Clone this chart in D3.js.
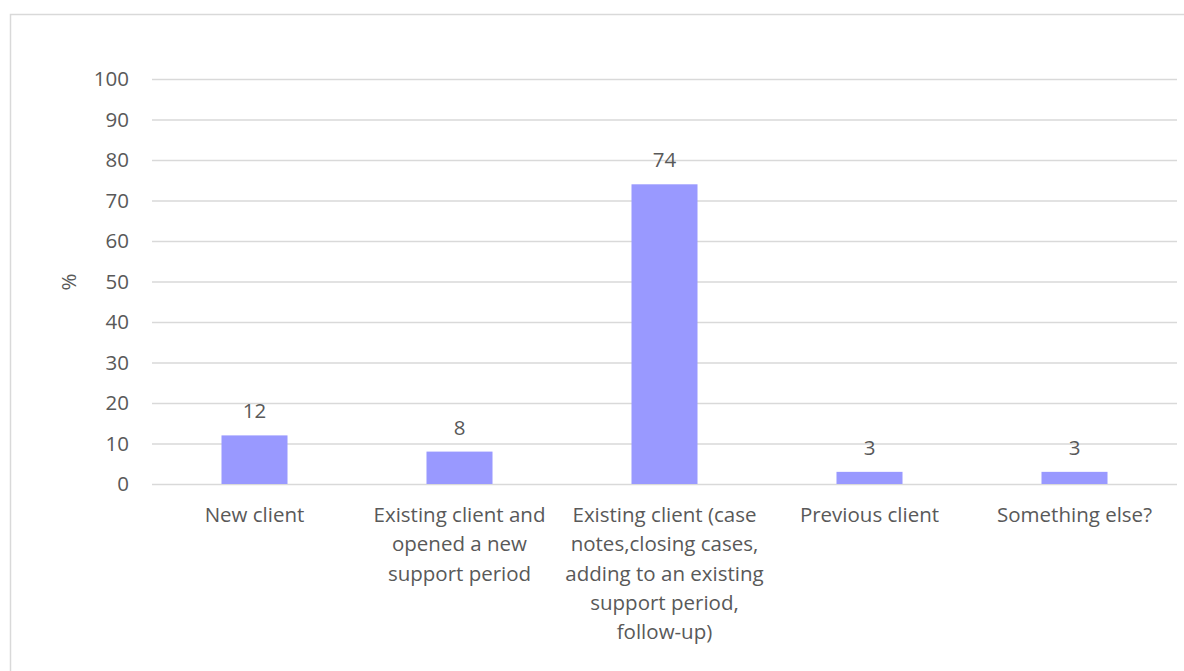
<!DOCTYPE html>
<html>
<head>
<meta charset="utf-8">
<script src="https://cdn.jsdelivr.net/npm/d3@7"></script>
<style>
  html, body { margin: 0; padding: 0; background: #fff; }
  svg { display: block; }
  text { font-family: "Open Sans", sans-serif; fill: #595959; }
</style>
</head>
<body>
<svg id="chart" width="1184" height="671"></svg>
<script>
const categories = [
  "New client",
  "Existing client and opened a new support period",
  "Existing client (case notes,closing cases, adding to an existing support period, follow-up)",
  "Previous client",
  "Something else?"
];
const categoryLines = [
  ["New client"],
  ["Existing client and", "opened a new", "support period"],
  ["Existing client (case", "notes,closing cases,", "adding to an existing", "support period,", "follow-up)"],
  ["Previous client"],
  ["Something else?"]
];
const values = [12, 8, 74, 3, 3];
const yTicks = [0, 10, 20, 30, 40, 50, 60, 70, 80, 90, 100];
const yAxisTitle = "%";

const svg = d3.select("#chart");
const W = 1184, H = 671;
const plot = { left: 152, right: 1177, top: 79, bottom: 484 };
const fontSize = 20.5;

// outer chart border
svg.append("rect")
  .attr("x", 10.5).attr("y", 14.5)
  .attr("width", W).attr("height", H)
  .attr("fill", "none").attr("stroke", "#d9d9d9").attr("stroke-width", 1.5);

const x = d3.scaleBand()
  .domain(categories)
  .range([plot.left, plot.right])
  .paddingInner(0.678)
  .paddingOuter(0.339);

const y = d3.scaleLinear().domain([0, 100]).range([plot.bottom, plot.top]);

// gridlines
const yAxis = d3.axisLeft(y).tickValues(yTicks).tickSize(-(plot.right - plot.left)).tickPadding(23);
const gy = svg.append("g").attr("transform", `translate(${plot.left},0)`).call(yAxis);
gy.select(".domain").remove();
gy.selectAll(".tick line").attr("stroke", "#d9d9d9").attr("stroke-width", 1.3);
gy.selectAll(".tick text")
  .attr("font-size", fontSize)
  .style("font-family", '"Open Sans", sans-serif')
  .attr("fill", "#595959");

// bars
svg.append("g").selectAll("rect")
  .data(values)
  .join("rect")
  .attr("x", (d, i) => x(categories[i]))
  .attr("y", d => y(d))
  .attr("width", x.bandwidth())
  .attr("height", d => y(0) - y(d))
  .attr("fill", "#9999ff");

// value labels
svg.append("g").selectAll("text")
  .data(values)
  .join("text")
  .attr("x", (d, i) => x(categories[i]) + x.bandwidth() / 2)
  .attr("y", d => y(d) - 17)
  .attr("text-anchor", "middle")
  .attr("font-size", fontSize)
  .attr("fill", "#404040")
  .text(d => d);

// category labels
const xl = svg.append("g");
categoryLines.forEach((lines, i) => {
  const cx = x(categories[i]) + x.bandwidth() / 2;
  const t = xl.append("text")
    .attr("x", cx)
    .attr("y", 522)
    .attr("text-anchor", "middle")
    .attr("font-size", fontSize);
  lines.forEach((ln, j) => {
    t.append("tspan").attr("x", cx).attr("dy", j === 0 ? 0 : 29.3).text(ln);
  });
});

// y axis title
svg.append("text")
  .attr("transform", `translate(76,282) rotate(-90)`)
  .attr("text-anchor", "middle")
  .attr("font-size", fontSize)
  .text(yAxisTitle);
</script>
</body>
</html>
